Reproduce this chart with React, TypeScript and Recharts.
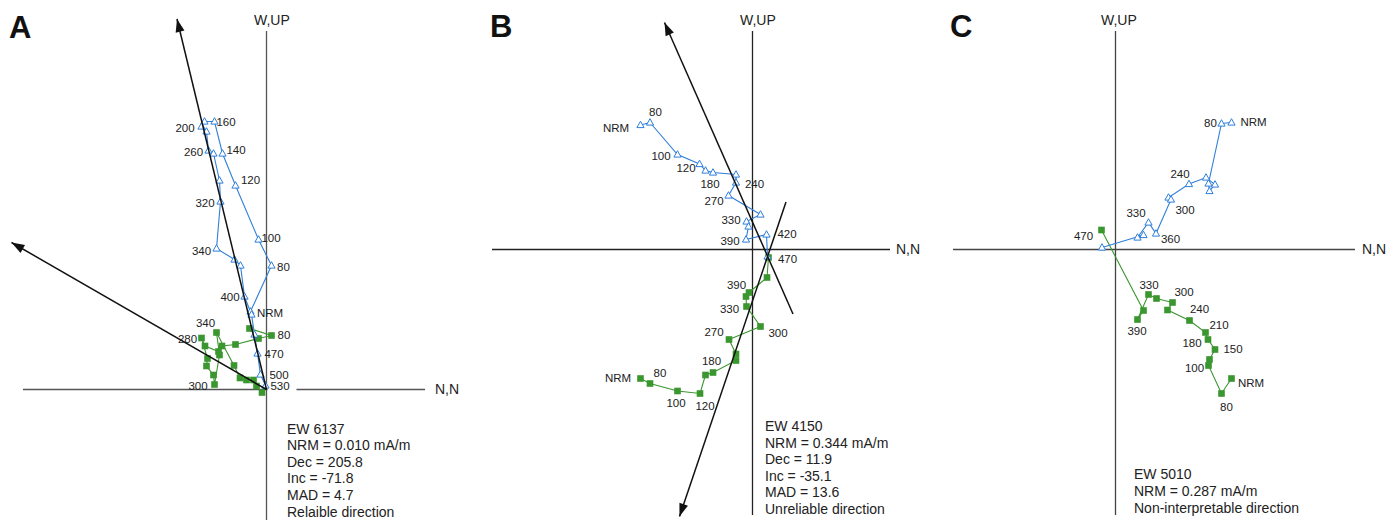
import React from "react";
import { ScatterChart, Scatter, XAxis, YAxis, ReferenceLine } from "recharts";

type Pt = { x: number; y: number };
type Lbl = { x: number; y: number; t: string };
type Fit = { tail: Pt; tip: Pt };

const BLUE = "#2f7fd9";
const GREEN = "#3a962e";
const FONT = "'Liberation Sans', Arial, Helvetica, sans-serif";

// ---- A: EW 6137 (open triangles = vertical plane, squares = horizontal plane)
const aBlue: Pt[] = [
  { x: -16, y: 78 }, { x: 5, y: 124 }, { x: -8, y: 150 }, { x: -31, y: 204 },
  { x: -44, y: 236 }, { x: -52, y: 268 }, { x: -62, y: 268 }, { x: -65, y: 263 },
  { x: -60, y: 258 }, { x: -58, y: 239 }, { x: -53, y: 236 }, { x: -47, y: 209 },
  { x: -46, y: 188 }, { x: -50, y: 141 }, { x: -32, y: 130 }, { x: -26, y: 124 },
  { x: -22, y: 93 }, { x: -15, y: 75 }, { x: -12, y: 55 }, { x: -9, y: 36 },
  { x: -6, y: 15 }, { x: -1, y: 4 },
];
const aGreen: Pt[] = [
  { x: -17, y: 61 }, { x: 5, y: 54 }, { x: -8, y: 51 }, { x: -31, y: 45 },
  { x: -44.5, y: 43.5 }, { x: -48, y: 38 }, { x: -61.5, y: 43.5 }, { x: -65, y: 51.5 },
  { x: -59, y: 31 }, { x: -60, y: 23.5 }, { x: -53, y: 14.5 }, { x: -52, y: 5 },
  { x: -47, y: 34.5 }, { x: -50, y: 57 }, { x: -32.5, y: 24 }, { x: -26.5, y: 11.5 },
  { x: -20, y: 9.5 }, { x: -13, y: 9.5 }, { x: -10, y: 3.5 }, { x: -4.5, y: -3 },
];
const aFits: Fit[] = [
  { tail: { x: 0, y: 0 }, tip: { x: -89.5, y: 370.5 } },
  { tail: { x: 0, y: 0 }, tip: { x: -255, y: 147 } },
];
const aLabels: Lbl[] = [
  { x: -81.5, y: 261.5, t: "200" }, { x: -40.5, y: 267.5, t: "160" },
  { x: -73, y: 237.5, t: "260" }, { x: -30.5, y: 239.5, t: "140" },
  { x: -16, y: 209.5, t: "120" }, { x: -61.5, y: 186.5, t: "320" },
  { x: -65, y: 138.5, t: "340" }, { x: 4.5, y: 151.5, t: "100" },
  { x: 17, y: 122.5, t: "80" }, { x: -36.5, y: 92.5, t: "400" },
  { x: 3.5, y: 76.5, t: "NRM" }, { x: -61, y: 66.5, t: "340" },
  { x: 17.5, y: 54.5, t: "80" }, { x: -79, y: 50.5, t: "280" },
  { x: 7.5, y: 35.5, t: "470" }, { x: 12.5, y: 14.5, t: "500" },
  { x: 13.5, y: 3.5, t: "530" }, { x: -68.5, y: 3.5, t: "300" },
];

// ---- B: EW 4150
const bBlue: Pt[] = [
  { x: -112, y: 124.5 }, { x: -102.5, y: 127 }, { x: -75, y: 95 }, { x: -53, y: 85.5 },
  { x: -47, y: 79 }, { x: -39.5, y: 77 }, { x: -16.5, y: 75 }, { x: -16.5, y: 67 },
  { x: -24, y: 54 }, { x: 8, y: 35 }, { x: -6, y: 28 }, { x: -4, y: 23 },
  { x: -6.5, y: 10 }, { x: 14, y: 15 }, { x: 15, y: -7 },
];
const bGreen: Pt[] = [
  { x: -112, y: -129 }, { x: -102.5, y: -134 }, { x: -75, y: -141.5 }, { x: -52.5, y: -144 },
  { x: -47, y: -125.5 }, { x: -39.5, y: -123 }, { x: -16.5, y: -111 }, { x: -16.5, y: -104.5 },
  { x: -23.5, y: -90 }, { x: 8, y: -77 }, { x: -6, y: -57 }, { x: -6.5, y: -47 },
  { x: -3.5, y: -43 }, { x: 14.5, y: -28 }, { x: 16, y: -8 },
];
const bFits: Fit[] = [
  { tail: { x: 40.5, y: -64.5 }, tip: { x: -88, y: 227 } },
  { tail: { x: 33.5, y: 47.5 }, tip: { x: -73, y: -267 } },
];
const bLabels: Lbl[] = [
  { x: -97, y: 137.5, t: "80" }, { x: -136.5, y: 121.5, t: "NRM" },
  { x: -91.5, y: 93.5, t: "100" }, { x: -66.5, y: 81.5, t: "120" },
  { x: -42.5, y: 65.5, t: "180" }, { x: 2, y: 65.5, t: "240" },
  { x: -38.5, y: 48.5, t: "270" }, { x: -21.5, y: 29.5, t: "330" },
  { x: -22.5, y: 8.5, t: "390" }, { x: 34.5, y: 15.5, t: "420" },
  { x: 35, y: -9.5, t: "470" }, { x: -16, y: -35.5, t: "390" },
  { x: -23, y: -59.5, t: "330" }, { x: -38.5, y: -82.5, t: "270" },
  { x: 25.5, y: -83.5, t: "300" }, { x: -41, y: -111.5, t: "180" },
  { x: -92.5, y: -123.5, t: "80" }, { x: -134.5, y: -128.5, t: "NRM" },
  { x: -76.5, y: -153.5, t: "100" }, { x: -47.5, y: -156.5, t: "120" },
];

// ---- C: EW 5010
const cBlue: Pt[] = [
  { x: 116, y: 127 }, { x: 106, y: 126 }, { x: 93, y: 66 }, { x: 94, y: 58.5 },
  { x: 99.5, y: 65 }, { x: 90.5, y: 72 }, { x: 73.5, y: 65.5 }, { x: 53, y: 52 },
  { x: 55.5, y: 50 }, { x: 40.5, y: 16 }, { x: 33, y: 27 }, { x: 22, y: 12 },
  { x: 28, y: 14.5 }, { x: -13.5, y: 2 },
];
const cGreen: Pt[] = [
  { x: 116, y: -129 }, { x: 106, y: -144 }, { x: 93, y: -116 }, { x: 94, y: -110 },
  { x: 99.5, y: -100 }, { x: 92.5, y: -90 }, { x: 90, y: -83 }, { x: 74, y: -71 },
  { x: 52, y: -60.5 }, { x: 57, y: -53 }, { x: 41, y: -49 }, { x: 33, y: -45 },
  { x: 22, y: -70 }, { x: 28, y: -61 }, { x: -14, y: 19.5 },
];
const cLabels: Lbl[] = [
  { x: 95, y: 126.5, t: "80" }, { x: 138, y: 127.5, t: "NRM" },
  { x: 64.5, y: 75.5, t: "240" }, { x: 69.5, y: 39.5, t: "300" },
  { x: 20.5, y: 36.5, t: "330" }, { x: 55, y: 10.5, t: "360" },
  { x: -32, y: 13.5, t: "470" }, { x: 33.5, y: -35.5, t: "330" },
  { x: 68.5, y: -42.5, t: "300" }, { x: 84, y: -59.5, t: "240" },
  { x: 103.5, y: -75.5, t: "210" }, { x: 76.5, y: -93.5, t: "180" },
  { x: 117.5, y: -99.5, t: "150" }, { x: 79, y: -118.5, t: "100" },
  { x: 135.5, y: -133.5, t: "NRM" }, { x: 111, y: -157.5, t: "80" },
  { x: 21.5, y: -81.5, t: "390" },
];

const triangle = (p: any) => {
  const { cx, cy } = p;
  return (
    <path
      d={`M${cx},${cy - 3.8}L${cx + 3.6},${cy + 2.6}L${cx - 3.6},${cy + 2.6}Z`}
      fill="#fff"
      stroke={BLUE}
      strokeWidth={1}
    />
  );
};

const square = (p: any) => (
  <rect x={p.cx - 3.3} y={p.cy - 3.3} width={6.6} height={6.6} fill={GREEN} />
);

const labelShape = (p: any) => (
  <text
    x={p.cx}
    y={p.cy}
    textAnchor="middle"
    dominantBaseline="central"
    fontSize={11.5}
    fontFamily={FONT}
    fill="#222"
  >
    {p.payload.t}
  </text>
);

// chart is 1 unit = 1 px, so the data direction is also the screen direction
const arrowShape = (fit: Fit) => (p: any) => {
  const d = p.payload;
  if (!d || d.x !== fit.tip.x || d.y !== fit.tip.y) return <g />;
  const dx = fit.tip.x - fit.tail.x;
  const dy = -(fit.tip.y - fit.tail.y);
  const len = Math.hypot(dx, dy);
  const ux = dx / len;
  const uy = dy / len;
  const L = 13;
  const W = 4.5;
  const bx = p.cx - ux * L;
  const by = p.cy - uy * L;
  return (
    <path
      d={`M${p.cx},${p.cy}L${bx - uy * W},${by + ux * W}L${bx + uy * W},${by - ux * W}Z`}
      fill="#111"
    />
  );
};

interface PanelProps {
  left: number;
  width: number;
  ox: number; // origin, px inside the panel
  oy: number;
  blue: Pt[];
  green: Pt[];
  fits: Fit[];
  labels: Lbl[];
  hAxis: [number, number][];
  vAxis: [number, number];
  axisColor: string;
}

function Panel(props: PanelProps) {
  const H = 520;
  const { left, width, ox, oy, axisColor } = props;
  return (
    <div style={{ position: "absolute", left, top: 0, width, height: H }}>
      <ScatterChart width={width} height={H} margin={{ top: 0, right: 0, bottom: 0, left: 0 }}>
        <XAxis type="number" dataKey="x" domain={[-ox, width - ox]} allowDataOverflow hide />
        <YAxis type="number" dataKey="y" domain={[oy - H, oy]} allowDataOverflow hide />
        {props.hAxis.map((s, i) => (
          <ReferenceLine
            key={"h" + i}
            segment={[{ x: s[0], y: 0 }, { x: s[1], y: 0 }]}
            stroke={axisColor}
            strokeWidth={1.3}
            ifOverflow="visible"
          />
        ))}
        <ReferenceLine
          segment={[{ x: 0, y: props.vAxis[0] }, { x: 0, y: props.vAxis[1] }]}
          stroke={axisColor}
          strokeWidth={1.3}
          ifOverflow="visible"
        />
        <Scatter
          data={props.green}
          line={{ stroke: GREEN, strokeWidth: 1.1 }}
          lineType="joint"
          shape={square}
          isAnimationActive={false}
        />
        <Scatter
          data={props.blue}
          line={{ stroke: BLUE, strokeWidth: 1.1 }}
          lineType="joint"
          shape={triangle}
          isAnimationActive={false}
        />
        {props.fits.map((f, i) => (
          <Scatter
            key={"f" + i}
            data={[f.tail, f.tip]}
            line={{ stroke: "#111", strokeWidth: 1.5 }}
            lineType="joint"
            shape={arrowShape(f)}
            isAnimationActive={false}
          />
        ))}
        <Scatter data={props.labels} shape={labelShape} isAnimationActive={false} />
      </ScatterChart>
    </div>
  );
}

const infoA = ["EW 6137", "NRM = 0.010 mA/m", "Dec = 205.8", "Inc = -71.8", "MAD = 4.7", "Relaible direction"];
const infoB = ["EW 4150", "NRM = 0.344 mA/m", "Dec = 11.9", "Inc = -35.1", "MAD = 13.6", "Unreliable direction"];
const infoC = ["EW 5010", "NRM = 0.287 mA/m", "Non-interpretable direction"];

function Info({ x, y, lines }: { x: number; y: number; lines: string[] }) {
  return (
    <text fontFamily={FONT} fontSize={14} fill="#222">
      {lines.map((l, i) => (
        <tspan key={i} x={x} y={y + i * 16.6}>
          {l}
        </tspan>
      ))}
    </text>
  );
}

export default function App() {
  const axisText = { fontFamily: FONT, fontSize: 14, fill: "#222" };
  const letter = { fontFamily: FONT, fontSize: 31, fontWeight: 700, fill: "#111" };
  return (
    <div style={{ position: "absolute", left: 0, top: 0, width: 1395, height: 520, background: "#fff", overflow: "hidden" }}>
      <Panel
        left={0}
        width={470}
        ox={266.5}
        oy={389.5}
        blue={aBlue}
        green={aGreen}
        fits={aFits}
        labels={aLabels}
        hAxis={[[-243.5, 1], [30, 158.5]]}
        vAxis={[358.5, -131]}
        axisColor="#555"
      />
      <Panel
        left={470}
        width={465}
        ox={282.5}
        oy={249.5}
        blue={bBlue}
        green={bGreen}
        fits={bFits}
        labels={bLabels}
        hAxis={[[-260.5, 137.5]]}
        vAxis={[218.5, -265.5]}
        axisColor="#222"
      />
      <Panel
        left={935}
        width={460}
        ox={180.5}
        oy={249.5}
        blue={cBlue}
        green={cGreen}
        fits={[]}
        labels={cLabels}
        hAxis={[[-162.5, 239.5]]}
        vAxis={[218.5, -265.5]}
        axisColor="#444"
      />
      <svg width={1395} height={520} style={{ position: "absolute", left: 0, top: 0, pointerEvents: "none" }}>
        <text x={9} y={38} {...letter}>A</text>
        <text x={490} y={37} {...letter}>B</text>
        <text x={950} y={37} {...letter}>C</text>
        <text x={254} y={25} {...axisText}>W,UP</text>
        <text x={740} y={25} {...axisText}>W,UP</text>
        <text x={1101} y={25} {...axisText}>W,UP</text>
        <text x={435} y={394} {...axisText}>N,N</text>
        <text x={896} y={254} {...axisText}>N,N</text>
        <text x={1362} y={254} {...axisText}>N,N</text>
        <Info x={287} y={433.5} lines={infoA} />
        <Info x={765} y={431} lines={infoB} />
        <Info x={1134} y={479.3} lines={infoC} />
      </svg>
    </div>
  );
}
